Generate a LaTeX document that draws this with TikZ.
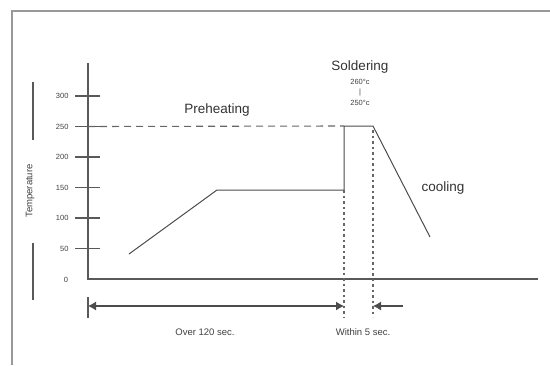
\documentclass[tikz,border=0pt]{standalone}
\usepackage{fontspec}
\setmainfont{Liberation Sans}
\usepackage{xcolor}
\usetikzlibrary{arrows, arrows.meta, positioning, calc}

\begin{document}
\begin{tikzpicture}[x=1pt, y=-1pt,
    line width=1.1pt, draw=black!65,
    axis/.style={draw=black!65},
    scaletick/.style={draw=black!65},
    profile/.style={draw=black!70, line width=1pt},
    guide/.style={draw=black!60, dash pattern=on 7pt off 5pt},
    dotguide/.style={draw=black!60, dash pattern=on 2.5pt off 3pt},
    dim/.style={draw=black!70, -{Latex[length=8pt, width=9pt]}},
    bigtxt/.style={font=\fontsize{13.5}{15}\selectfont, text=black!80, inner sep=0pt},
    smalltxt/.style={font=\fontsize{9.5}{11}\selectfont, text=black!75, inner sep=0pt},
    ticktxt/.style={font=\fontsize{7.5}{9}\selectfont, text=black!75, inner sep=0pt}]
    \useasboundingbox (0,0) rectangle (550,365);

    % frame
    \draw[black!40, line width=1.6pt] (550,11) -- (12,11) -- (12,365);

    % axes
    \coordinate (o) at (88,279);
    \coordinate (ytop) at (88,63);
    \coordinate (xend) at (538,279);
    \draw[axis] (ytop) -- (o) -- (xend);
    \node[ticktxt] (t0) at (66,280) {0};
    \foreach \v [count=\i] in {50,100,...,300} {
      \coordinate (tk\v) at (88,{279-\i*30.5});
      \draw[scaletick] ($(tk\v)+(-13,0)$) -- ($(tk\v)+(12,0)$);
      \node[ticktxt, left=19pt of tk\v] (lab\v) {\v};
    }

    % y label
    \node[smalltxt, rotate=90] (temp) at (30,191) {Temperature};
    \draw[axis] (33,82) -- (33,140);
    \draw[axis] (33,243) -- (33,300);

    % profile
    \coordinate (p1) at (129,254);
    \coordinate (p2) at (217,190);
    \coordinate (p3) at (344,190);
    \coordinate (p4) at (344,126);
    \coordinate (p5) at (373,126);
    \coordinate (p6) at (430,237);
    \draw[profile] (p1) -- (p2) -- (p3) -- (p4) -- (p5) -- (p6);
    \draw[guide] (tk250) -- (p4);

    % guides down to the time row
    \coordinate (d1) at (344,317);
    \coordinate (d2) at (373,317);
    \draw[dotguide] (p3) -- (d1);
    \draw[dotguide] ($(p5)+(0,4)$) -- (d2);

    % time row
    \coordinate (a0) at (88,306);
    \coordinate (a1) at (344,306);
    \coordinate (a2) at (373,306);
    \coordinate (a3) at (403,306);
    \draw[axis] (88,297) -- (88,318);
    \draw[dim, {Latex[length=8pt, width=9pt]}-{Latex[length=8pt, width=9pt]}] (a0) -- (a1);
    \draw[dim] (a3) -- (a2);

    % labels
    \node[bigtxt] (pre) at (217,110) {Preheating};
    \node[bigtxt] (sold) at (360,67) {Soldering};
    \node[ticktxt, below=5pt of sold] (hi) {260°c};
    \node[ticktxt, below=3pt of hi] (bar) {|};
    \node[ticktxt, below=3pt of bar] (lo) {250°c};
    \node[bigtxt] (cool) at (443,188) {cooling};
    \node[smalltxt] (over) at (205,332) {Over 120 sec.};
    \node[smalltxt] (within) at (363,332) {Within 5 sec.};
\end{tikzpicture}
\end{document}
